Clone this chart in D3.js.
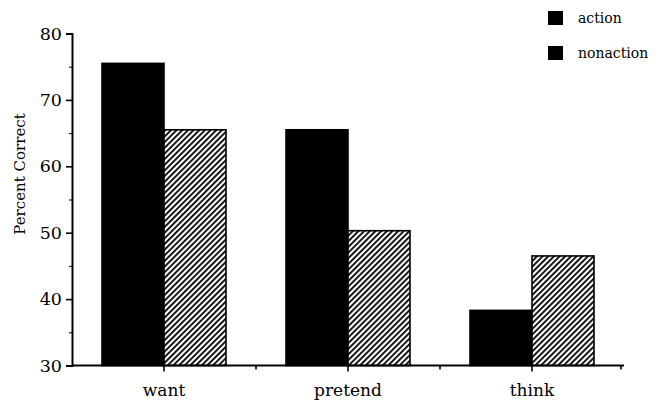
<!DOCTYPE html>
<html><head><meta charset="utf-8">
<script src="https://cdn.jsdelivr.net/npm/d3@7"></script>
<style>body{margin:0;background:#fff}svg{display:block}text{font-family:"DejaVu Serif",serif;fill:#000}</style>
</head><body>
<svg id="c" width="662" height="400"></svg>
<script>
const categories = ["want", "pretend", "think"];
const seriesNames = ["action", "nonaction"];
const actionValues = [75.5, 65.5, 38.3];
const nonactionValues = [65.5, 50.3, 46.5];
const yTicks = [30, 40, 50, 60, 70, 80];
const yMinorTicks = [35, 45, 55, 65, 75];

const svg = d3.select("#c");
const defs = svg.append("defs");
const pat = defs.append("pattern").attr("id","hatch").attr("patternUnits","userSpaceOnUse")
  .attr("width",4).attr("height",4).attr("patternTransform","rotate(45)");
pat.append("rect").attr("width",4).attr("height",4).attr("fill","#fff");
pat.append("rect").attr("x",0).attr("y",0).attr("width",1.8).attr("height",4).attr("fill","#000");

const x0 = d3.scaleBand().domain(categories).range([72, 624]).padding(0);
const x1 = d3.scaleBand().domain(seriesNames).range([0, x0.bandwidth()]).paddingInner(0).paddingOuter(0.484);
const y = d3.scaleLinear().domain([30, 80]).range([365.5, 33.5]);

const data = categories.map((c,i)=>({cat:c, vals:[{s:"action",v:actionValues[i]},{s:"nonaction",v:nonactionValues[i]}]}));

// bars
const g = svg.append("g");
data.forEach(d=>{
  d.vals.forEach(e=>{
    g.append("rect")
      .attr("x", x0(d.cat)+x1(e.s))
      .attr("y", y(e.v))
      .attr("width", x1.bandwidth())
      .attr("height", y(30)-y(e.v))
      .attr("fill", e.s==="action" ? "#000" : "url(#hatch)")
      .attr("stroke","#000").attr("stroke-width",1.6);
  });
});

// y axis
const yAxis = d3.axisLeft(y).tickValues(yTicks).tickSize(6).tickPadding(4).tickFormat(d3.format("d"));
const ya = svg.append("g").attr("transform","translate(72,0)").call(yAxis);
ya.select(".domain").attr("stroke","#000").attr("stroke-width",2);
ya.selectAll(".tick line").attr("stroke","#000").attr("stroke-width",1.6);
ya.selectAll(".tick text").style("font-size","17.5px").attr("font-family","DejaVu Serif");
svg.append("g").attr("transform","translate(72,0)")
  .call(d3.axisLeft(y).tickValues(yMinorTicks).tickSize(3).tickFormat(""))
  .call(s=>s.select(".domain").remove())
  .selectAll("line").attr("stroke","#000");

// x axis
const xa = svg.append("g").attr("transform","translate(0,365.5)")
  .call(d3.axisBottom(x0).tickSize(6).tickPadding(12));
xa.select(".domain").attr("d","M72,0H624").attr("stroke","#000").attr("stroke-width",2);
xa.selectAll(".tick line").attr("stroke","#000").attr("stroke-width",1.6);
xa.selectAll(".tick text").style("font-size","17px").attr("font-family","DejaVu Serif");
// minor x ticks at band boundaries
const bounds = categories.slice(1).map(c=>x0(c)).concat([x0.range()[1]-3]);
svg.append("g").selectAll("line").data(bounds).join("line")
  .attr("x1",d=>d).attr("x2",d=>d).attr("y1",365.5).attr("y2",369.5)
  .attr("stroke","#000").attr("stroke-width",1.6);

// y label
svg.append("text").attr("transform","translate(25,174) rotate(-90)")
  .attr("text-anchor","middle").style("font-size","15px").text("Percent Correct");

// legend
const leg = svg.append("g");
seriesNames.forEach((s,i)=>{
  leg.append("rect").attr("x",548).attr("y",11+i*35).attr("width",15).attr("height",14)
    .attr("fill", "#000");
  leg.append("text").attr("x",578).attr("y",23+i*35).style("font-size","14px").text(s);
});
</script>
</body></html>
